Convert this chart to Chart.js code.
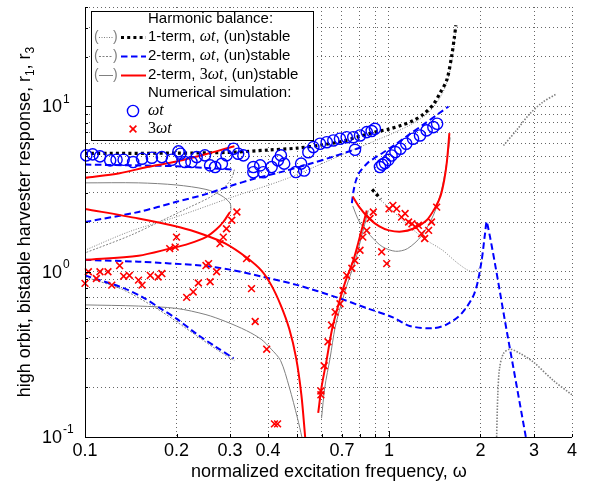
<!DOCTYPE html>
<html>
<head>
<meta charset="utf-8">
<script src="https://cdn.jsdelivr.net/npm/chart.js@4.4.1/dist/chart.umd.min.js"></script>
<style>
  html, body { margin: 0; padding: 0; background: #fff; }
  canvas { display: block; }
</style>
</head>
<body>
<canvas id="chart" width="598" height="488"></canvas>
<script>
// axis ticks / grid
const xGrid = [0.1, 0.2, 0.3, 0.4, 0.5, 0.6, 0.7, 0.8, 0.9, 1, 2, 3, 4];
const xTickLabels = [0.1, 0.2, 0.3, 0.4, 0.7, 1, 2, 3, 4];
const yGrid = [0.1, 0.2, 0.3, 0.4, 0.5, 0.6, 0.7, 0.8, 0.9, 1, 2, 3, 4, 5, 6, 7, 8, 9, 10, 20, 30, 40];
const yTickLabels = [[0.1, '-1'], [1, '0'], [10, '1']];

// 1-term harmonic balance, ωt
const oneTermStable = [[0.1, 5.2], [0.2, 5.22], [0.3, 5.28], [0.4, 5.45], [0.5, 5.6], [0.6, 5.85], [0.7, 6.15], [0.8, 6.6], [0.9, 7.0], [1.0, 7.3], [1.1, 7.7], [1.2, 8.2], [1.3, 9.0], [1.4, 10.3], [1.47, 12], [1.55, 14.5], [1.61, 20.5], [1.64, 26], [1.66, 31]];
const oneTermStableShort = [[0.88, 3.15], [0.91, 2.95], [0.94, 2.75]];
const oneTermUnstableA = [[0.1, 1.35], [0.14, 1.75], [0.2, 2.15], [0.3, 2.8], [0.45, 3.6], [0.6, 4.5], [0.75, 5.4], [0.9, 6.2], [1.05, 7.0], [1.2, 7.9], [1.35, 9.2], [1.48, 11.5], [1.56, 14.5], [1.61, 19], [1.64, 24], [1.66, 30]];
const oneTermUnstableB = [[0.93, 2.75], [1.0, 2.45], [1.17, 1.87], [1.33, 1.55], [1.5, 1.35], [1.69, 1.12], [1.87, 1.0], [1.98, 1.05], [2.03, 1.2]];
const oneTermUnstableC = [[2.38, 5.8], [2.63, 7.2], [2.9, 9.0], [3.2, 10.6], [3.55, 11.9]];
const oneTermUnstableD = [[2.26, 0.1], [2.28, 0.18], [2.31, 0.26], [2.38, 0.32], [2.5, 0.34], [2.7, 0.32], [2.98, 0.285], [3.47, 0.22], [4, 0.18]];

// 2-term harmonic balance, ωt
const twoTermA = [[0.1, 4.45], [0.15, 4.4], [0.2, 4.35], [0.25, 4.25], [0.31, 4.15]];
const twoTermB = [[0.1, 2.0], [0.15, 2.3], [0.2, 2.65], [0.25, 2.95], [0.3, 3.3], [0.36, 3.65], [0.45, 4.05], [0.55, 4.5], [0.65, 4.95], [0.75, 5.4], [0.82, 5.7]];
const twoTermC = [[0.755, 2.6], [0.765, 3.1], [0.78, 3.6], [0.8, 4.0], [0.85, 4.55], [0.9, 4.9], [0.955, 5.25], [1.05, 5.9], [1.17, 6.8], [1.3, 7.8], [1.45, 9.0], [1.57, 10]];
const twoTermD = [[0.1, 1.18], [0.15, 1.15], [0.24, 1.09], [0.3, 1.03], [0.377, 0.94], [0.5, 0.83], [0.673, 0.7], [0.85, 0.6], [1.03, 0.53], [1.17, 0.47], [1.39, 0.455], [1.55, 0.48], [1.735, 0.56], [1.91, 0.74], [2.01, 1.12], [2.07, 1.7], [2.1, 2.0], [2.45, 0.42], [2.82, 0.1]];
const twoTermE = [[0.1, 0.95], [0.133, 0.8], [0.155, 0.7], [0.177, 0.6], [0.2, 0.52], [0.233, 0.42], [0.27, 0.35], [0.308, 0.3]];
const twoTermUnstableA = [[0.31, 4.15], [0.305, 3.75], [0.29, 3.3], [0.26, 2.85], [0.22, 2.45], [0.18, 2.05], [0.14, 1.65], [0.1, 1.3]];
const twoTermUnstableE = [[0.1, 0.93], [0.133, 0.78], [0.177, 0.58], [0.233, 0.41], [0.27, 0.34], [0.31, 0.29]];

// 2-term harmonic balance, 3ωt
const thirdA = [[0.1, 3.7], [0.13, 3.95], [0.16, 4.3], [0.2, 4.65], [0.23, 4.95], [0.27, 5.35], [0.31, 5.75]];
const thirdB = [[0.1, 2.4], [0.15, 2.1], [0.205, 1.86], [0.245, 1.68], [0.29, 1.48], [0.34, 1.22], [0.38, 1.02], [0.41, 0.83], [0.44, 0.63], [0.47, 0.45], [0.495, 0.3], [0.515, 0.18], [0.53, 0.1]];
const thirdC = [[0.1, 1.18], [0.15, 1.25], [0.19, 1.38], [0.22, 1.48], [0.25, 1.62], [0.27, 1.8], [0.285, 2.0], [0.3, 2.3]];
const thirdD = [[0.585, 0.14], [0.6, 0.2], [0.623, 0.29], [0.65, 0.45], [0.68, 0.62], [0.72, 0.88], [0.763, 1.17], [0.8, 1.6], [0.845, 2.35]];
const thirdE = [[0.76, 2.85], [0.8, 2.45], [0.86, 2.1], [0.93, 1.88], [1.0, 1.78], [1.1, 1.75], [1.2, 1.82], [1.33, 2.05], [1.42, 2.45], [1.48, 2.9], [1.52, 3.6], [1.55, 4.6], [1.58, 6.9]];
const thirdUnstableA = [[0.1, 3.45], [0.15, 3.45], [0.2, 3.35], [0.25, 3.15], [0.28, 2.9], [0.3, 2.6], [0.302, 2.35]];
const thirdUnstableB = [[0.1, 0.63], [0.15, 0.62], [0.2, 0.6], [0.25, 0.55], [0.29, 0.5], [0.34, 0.44], [0.38, 0.39], [0.41, 0.34], [0.44, 0.29], [0.47, 0.2], [0.5, 0.13], [0.517, 0.1]];
const thirdUnstableD = [[0.6, 0.13], [0.615, 0.2], [0.64, 0.3], [0.665, 0.46], [0.695, 0.63], [0.735, 0.88], [0.775, 1.17], [0.81, 1.6], [0.855, 2.35]];
const thirdUnstableE = [[0.76, 2.5], [0.8, 2.0], [0.87, 1.65], [0.95, 1.42], [1.05, 1.33], [1.15, 1.38], [1.28, 1.65], [1.4, 2.2], [1.48, 3.0], [1.54, 4.3], [1.59, 6.5]];

// numerical simulation
const simOmega = [[0.101, 5.06], [0.106, 5.13], [0.112, 4.99], [0.121, 4.72], [0.127, 4.76], [0.134, 4.76], [0.144, 4.61], [0.154, 4.83], [0.166, 4.9], [0.179, 4.94], [0.193, 4.76], [0.203, 5.35], [0.206, 5.18], [0.213, 4.61], [0.224, 4.61], [0.233, 4.94], [0.248, 5.06], [0.258, 4.4], [0.268, 4.3], [0.282, 4.5], [0.292, 5.06], [0.308, 5.55], [0.319, 5.18], [0.332, 5.06],
  [0.358, 4.3], [0.377, 4.4], [0.358, 4.0], [0.386, 4.0], [0.411, 4.3], [0.431, 4.72], [0.441, 5.06], [0.452, 4.51], [0.494, 4.01], [0.514, 4.51], [0.526, 4.1],
  [0.543, 5.29], [0.564, 5.68], [0.593, 5.95], [0.624, 6.08], [0.656, 6.23], [0.69, 6.38], [0.726, 6.52], [0.763, 6.52], [0.773, 5.47], [0.803, 6.68], [0.845, 7.0], [0.877, 7.1], [0.899, 7.33],
  [0.934, 4.3], [0.95, 4.45], [0.97, 4.55], [0.995, 4.75], [1.02, 5.05], [1.05, 5.3], [1.09, 5.55], [1.14, 5.95], [1.2, 6.38], [1.265, 6.68], [1.33, 7.17], [1.4, 7.5], [1.44, 7.86]];
const simThird = [[0.1, 0.85], [0.1026, 1.0], [0.109, 0.91], [0.112, 1.0], [0.119, 1.0], [0.1225, 0.83], [0.13, 1.09], [0.134, 0.94], [0.14, 0.95], [0.15, 0.89], [0.154, 0.83], [0.164, 0.95], [0.174, 0.93], [0.179, 0.975],
  [0.19, 1.38], [0.198, 1.41], [0.2, 1.62], [0.216, 0.7], [0.227, 0.755], [0.236, 0.855], [0.25, 1.09], [0.255, 1.12], [0.258, 0.87], [0.271, 1.0],
  [0.278, 1.48], [0.285, 1.62], [0.292, 1.82], [0.304, 2.05], [0.316, 2.3], [0.34, 1.2], [0.353, 0.79], [0.363, 0.5], [0.396, 0.34], [0.42, 0.12], [0.43, 0.12],
  [0.597, 0.18], [0.597, 0.19], [0.612, 0.27], [0.63, 0.377], [0.647, 0.475], [0.665, 0.57], [0.69, 0.64], [0.706, 0.77], [0.726, 0.95], [0.755, 1.05], [0.773, 1.17], [0.803, 1.35], [0.82, 1.62], [0.845, 1.78], [0.866, 2.1], [0.888, 2.3], [0.946, 1.32], [0.983, 1.12],
  [1.0, 2.4], [1.03, 2.52], [1.06, 2.4], [1.1, 2.14], [1.13, 2.25], [1.16, 2.0], [1.19, 1.95], [1.22, 1.87], [1.25, 1.91], [1.28, 1.7], [1.31, 1.59], [1.35, 1.78], [1.38, 2.0], [1.435, 2.46]];

const SANS = '"Liberation Sans", Arial, Helvetica, sans-serif';
const SERIF = '"Liberation Serif", "Times New Roman", serif';
const BLUE = '#0000ff';
const RED = '#ff0000';
const GRAY = '#808080';

const pts = (arr) => arr.map(([x, y]) => ({ x, y }));

const STYLES = {
  black: { borderColor: '#000', borderWidth: 3.2, borderDash: [3, 3.2] },
  blue: { borderColor: BLUE, borderWidth: 2, borderDash: [6.5, 3.5] },
  red: { borderColor: RED, borderWidth: 2, borderDash: [] },
  grayDot: { borderColor: GRAY, borderWidth: 1, borderDash: [1, 1.5] },
  grayDotBold: { borderColor: GRAY, borderWidth: 1.6, borderDash: [1.5, 1.5] },
  grayDash: { borderColor: GRAY, borderWidth: 1, borderDash: [2, 1.5] },
  graySolid: { borderColor: GRAY, borderWidth: 1, borderDash: [] },
};

const line = (data, style) => ({
  data: pts(data),
  showLine: true,
  pointRadius: 0,
  tension: 0.3,
  fill: false,
  ...STYLES[style],
});

const datasets = [
  { data: pts(simThird), pointStyle: 'crossRot', pointRadius: 4.8, borderColor: RED, borderWidth: 1.6, backgroundColor: RED, clip: 10 },
  { data: pts(simOmega), pointStyle: 'circle', pointRadius: 5.6, borderColor: BLUE, borderWidth: 1.4, backgroundColor: 'rgba(0,0,0,0)', clip: 10 },
  line(thirdA, 'red'), line(thirdB, 'red'), line(thirdC, 'red'), line(thirdD, 'red'), line(thirdE, 'red'),
  line(twoTermA, 'blue'), line(twoTermB, 'blue'), line(twoTermC, 'blue'), line(twoTermD, 'blue'), line(twoTermE, 'blue'),
  line(oneTermStable, 'black'), line(oneTermStableShort, 'black'),
  line(thirdUnstableA, 'graySolid'), line(thirdUnstableB, 'graySolid'), line(thirdUnstableD, 'graySolid'), line(thirdUnstableE, 'graySolid'),
  line(twoTermUnstableA, 'grayDash'), line(twoTermUnstableE, 'grayDash'),
  line(oneTermUnstableA, 'grayDot'), line(oneTermUnstableB, 'grayDot'), line(oneTermUnstableC, 'grayDotBold'), line(oneTermUnstableD, 'grayDotBold'),
];

const drawRich = (ctx, x, y, parts) => {
  parts.forEach(([text, font, dy = 0]) => {
    ctx.font = font;
    ctx.fillText(text, x, y + dy);
    x += ctx.measureText(text).width;
  });
  return x;
};

const sampleLine = (ctx, x1, x2, y, style, width) => {
  const s = STYLES[style];
  ctx.save();
  ctx.strokeStyle = s.borderColor;
  ctx.lineWidth = width || s.borderWidth;
  ctx.setLineDash(s.borderDash);
  ctx.beginPath();
  ctx.moveTo(x1, y);
  ctx.lineTo(x2, y);
  ctx.stroke();
  ctx.restore();
};

const decorations = {
  id: 'decorations',
  afterDraw(chart) {
    const { ctx, chartArea: area, scales: { x, y } } = chart;
    ctx.save();

    // axes and ticks
    ctx.strokeStyle = '#000';
    ctx.lineWidth = 1;
    ctx.beginPath();
    ctx.moveTo(area.left + 0.5, area.top);
    ctx.lineTo(area.left + 0.5, area.bottom + 0.5);
    ctx.lineTo(area.right, area.bottom + 0.5);
    yGrid.forEach((v) => {
      const py = Math.round(y.getPixelForValue(v)) + 0.5;
      const len = [0.1, 1, 10].includes(v) ? 6 : 3;
      ctx.moveTo(area.left, py);
      ctx.lineTo(area.left + len, py);
    });
    xGrid.forEach((v) => {
      const px = Math.round(x.getPixelForValue(v)) + 0.5;
      const len = [0.1, 1].includes(v) ? 6 : 3;
      ctx.moveTo(px, area.bottom);
      ctx.lineTo(px, area.bottom - len);
    });
    ctx.stroke();

    // tick labels
    ctx.fillStyle = '#000';
    ctx.textAlign = 'center';
    ctx.textBaseline = 'middle';
    ctx.font = `18px ${SANS}`;
    xTickLabels.forEach((v) => ctx.fillText(String(v), x.getPixelForValue(v), area.bottom + 14));
    yTickLabels.forEach(([v, exp]) => {
      const py = y.getPixelForValue(v);
      ctx.font = `18px ${SANS}`;
      ctx.textAlign = 'right';
      ctx.fillText('10', 62, py + 1);
      ctx.font = `12px ${SANS}`;
      ctx.textAlign = 'left';
      ctx.fillText(exp, 63, py - 7);
    });

    // axis titles
    ctx.textAlign = 'center';
    ctx.textBaseline = 'alphabetic';
    ctx.font = `18px ${SANS}`;
    ctx.fillText('normalized excitation frequency, ω', 329, 477);

    const yParts = [['high orbit, bistable harvester response, r', `18px ${SANS}`], ['1', `12px ${SANS}`, 4], [', r', `18px ${SANS}`], ['3', `12px ${SANS}`, 4]];
    ctx.save();
    ctx.translate(30, 222);
    ctx.rotate(-Math.PI / 2);
    ctx.textAlign = 'left';
    let total = 0;
    yParts.forEach(([t, f]) => { ctx.font = f; total += ctx.measureText(t).width; });
    drawRich(ctx, -total / 2, 0, yParts);
    ctx.restore();

    // legend
    const lx = 91, ly = 11, lw = 222, lh = 129;
    ctx.fillStyle = '#fff';
    ctx.fillRect(lx, ly, lw, lh);
    ctx.strokeStyle = '#000';
    ctx.lineWidth = 1;
    ctx.strokeRect(lx + 0.5, ly + 0.5, lw, lh);

    const tx = 148;
    const f = `15px ${SANS}`;
    const fi = `italic 16px ${SERIF}`;
    const fr = `16px ${SERIF}`;
    ctx.textAlign = 'left';
    ctx.textBaseline = 'middle';
    ctx.fillStyle = '#000';
    drawRich(ctx, tx, 19, [['Harmonic balance:', f]]);
    drawRich(ctx, tx, 93, [['Numerical simulation:', f]]);

    const rows = [
      [37, 'grayDot', 'black', [['1-term, ', f], ['ωt', fi], [', (un)stable', f]]],
      [56, 'grayDash', 'blue', [['2-term, ', f], ['ωt', fi], [', (un)stable', f]]],
      [75, 'graySolid', 'red', [['2-term, ', f], ['3', fr], ['ωt', fi], [', (un)stable', f]]],
    ];
    rows.forEach(([ry, gray, main, parts]) => {
      ctx.fillStyle = GRAY;
      ctx.font = `14px ${SANS}`;
      ctx.fillText('(', 94, ry);
      ctx.fillText(')', 113, ry);
      sampleLine(ctx, 99, 113, ry + 0.5, gray, 1);
      sampleLine(ctx, 121, 146, ry + 0.5, main);
      ctx.fillStyle = '#000';
      drawRich(ctx, tx, ry, parts);
    });

    ctx.strokeStyle = BLUE;
    ctx.lineWidth = 1.4;
    ctx.beginPath();
    ctx.arc(133, 111, 5.6, 0, Math.PI * 2);
    ctx.stroke();
    ctx.strokeStyle = RED;
    ctx.lineWidth = 1.6;
    ctx.beginPath();
    ctx.moveTo(129.6, 125.6); ctx.lineTo(136.4, 132.4);
    ctx.moveTo(136.4, 125.6); ctx.lineTo(129.6, 132.4);
    ctx.stroke();
    ctx.fillStyle = '#000';
    drawRich(ctx, tx, 111, [['ωt', fi]]);
    drawRich(ctx, tx, 129, [['3', fr], ['ωt', fi]]);

    ctx.restore();
  },
};

const gridOpts = { color: 'rgba(0,0,0,0.6)', lineWidth: 1, drawTicks: false };

new Chart(document.getElementById('chart'), {
  type: 'scatter',
  data: { datasets },
  options: {
    responsive: false,
    animation: false,
    layout: { padding: { left: 85, right: 26, top: 6, bottom: 51 } },
    plugins: { legend: { display: false }, tooltip: { enabled: false } },
    scales: {
      x: {
        type: 'logarithmic', min: 0.1, max: 4,
        afterBuildTicks: (scale) => { scale.ticks = xGrid.map((value) => ({ value })); },
        ticks: { display: false },
        grid: gridOpts,
        border: { display: false, dash: [1, 3] },
      },
      y: {
        type: 'logarithmic', min: 0.1, max: 40,
        afterBuildTicks: (scale) => { scale.ticks = yGrid.map((value) => ({ value })); },
        ticks: { display: false },
        grid: gridOpts,
        border: { display: false, dash: [1, 3] },
      },
    },
  },
  plugins: [decorations],
});
</script>
</body>
</html>
